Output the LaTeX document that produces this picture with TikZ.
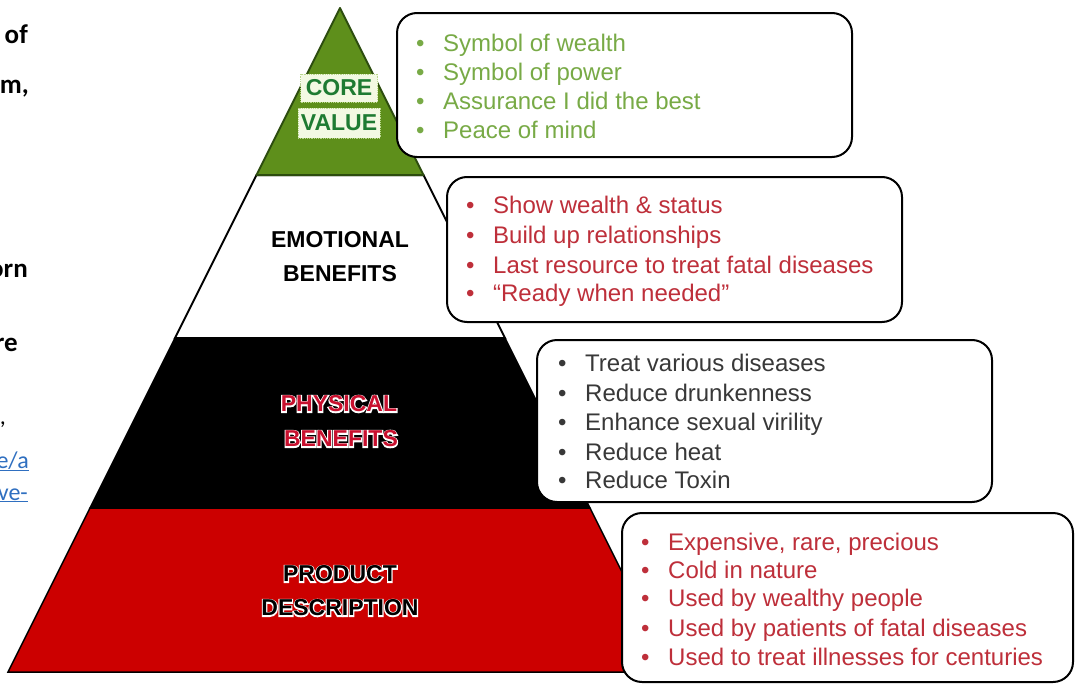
\documentclass[tikz,border=0pt]{standalone}
\usepackage{fontspec}
\setmainfont{Liberation Sans}
\newfontfamily\calib{Carlito}
\newfontfamily\halofont[FakeBold=10]{Liberation Sans Bold}
\definecolor{pgreen}{HTML}{5E8F1B}
\definecolor{pgreenline}{HTML}{2C4C0E}
\definecolor{pred}{HTML}{CC0000}
\definecolor{gtext}{HTML}{78AA46}
\definecolor{rtext}{HTML}{BE2F3A}
\definecolor{ktext}{HTML}{383838}
\definecolor{coretext}{HTML}{1E7B32}
\definecolor{corefill}{HTML}{F3F9E3}
\definecolor{coreline}{HTML}{B9D68E}
\definecolor{physred}{HTML}{C8102E}
\definecolor{linkblue}{HTML}{2F6FC0}
\newcommand\bul{\makebox[27pt][l]{•}}
\begin{document}
\begin{tikzpicture}[x=1pt,y=-1pt,
  infobox/.style={draw=black, line width=2pt, fill=white, rounded corners=20pt, inner sep=0pt},
  item/.style={anchor=base west, inner sep=0pt, font=\fontsize{24}{29}\selectfont},
  lbl/.style={inner sep=0pt, font=\fontsize{23}{28}\selectfont\bfseries},
  halo/.style={inner sep=0pt, text=white, font=\halofont\fontsize{23}{28}\selectfont},
  corebox/.style={lbl, fill=corefill, draw=coreline, densely dotted, line width=0.8pt, text=coretext},
  lefttxt/.style={anchor=base east, inner sep=0pt, font=\calib\fontsize{27}{32}\selectfont\bfseries},
  linktxt/.style={anchor=base east, inner sep=0pt, text=linkblue, font=\calib\fontsize{24}{29}\selectfont}]
\useasboundingbox (0,0) rectangle (1077,688);
\clip (0,0) rectangle (1077,688);
\fill[white] (0,0) rectangle (1077,688);

% left clipped text
\node[lefttxt] (l1) at (28,43) {of};
\node[lefttxt] (l2) at (29,93) {m,};
\node[lefttxt] (l3) at (28,277) {orn};
\node[lefttxt] (l4) at (18,351) {re};
\node[anchor=base east, inner sep=0pt, font=\calib\fontsize{24}{29}\selectfont] (l5) at (6,424) {,};
\node[linktxt] (l6) at (29,468) {\underline{e/a}};
\node[linktxt] (l7) at (28,500) {\underline{ve-}};

% pyramid
\filldraw[fill=pred, draw=black, line width=1.5pt] (90,508) -- (590,508) -- (672,672) -- (8,672) -- cycle;
\filldraw[fill=black, draw=black, line width=1.5pt] (175,338) -- (505,338) -- (590,508) -- (90,508) -- cycle;
\filldraw[fill=white, draw=black, line width=2pt] (256.5,175) -- (423.5,175) -- (505,338) -- (175,338) -- cycle;
\filldraw[fill=pgreen, draw=pgreenline, line width=2pt, line join=round] (340,8) -- (423.5,175) -- (256.5,175) -- cycle;

% pyramid labels
\node[corebox, minimum width=77, minimum height=28] (core) at (339,88) {CORE};
\node[corebox, minimum width=82, minimum height=30] (value) at (339,123) {VALUE};
\node[lbl, text=black] (emo1) at (340,240) {EMOTIONAL};
\node[lbl, text=black] (emo2) at (340,274) {BENEFITS};
\node[halo] (phy1h) at (339,404) {PHYSICAL};
\node[lbl, text=physred] (phy1) at (339,404) {PHYSICAL};
\node[halo] (phy2h) at (341,439) {BENEFITS};
\node[lbl, text=physred] (phy2) at (341,439) {BENEFITS};
\node[halo] (pro1h) at (340,574) {PRODUCT};
\node[lbl, text=black] (pro1) at (340,574) {PRODUCT};
\node[halo] (pro2h) at (340,608) {DESCRIPTION};
\node[lbl, text=black] (pro2) at (340,608) {DESCRIPTION};

% boxes
\node[infobox, minimum width=455, minimum height=144] (b1) at (624.5,85) {};
\node[infobox, minimum width=455, minimum height=145] (b2) at (674.5,249.5) {};
\node[infobox, minimum width=455, minimum height=162] (b3) at (764.5,421) {};
\node[infobox, minimum width=451, minimum height=169] (b4) at (847.5,597.5) {};

% box 1
\node[item, text=gtext] (b1a) at (416,51.5) {\bul Symbol of wealth};
\node[item, text=gtext] (b1b) at (416,80.5) {\bul Symbol of power};
\node[item, text=gtext] (b1c) at (416,109.5) {\bul Assurance I did the best};
\node[item, text=gtext] (b1d) at (416,138.5) {\bul Peace of mind};
% box 2
\node[item, text=rtext] (b2a) at (466,213.5) {\bul Show wealth \& status};
\node[item, text=rtext] (b2b) at (466,243.5) {\bul Build up relationships};
\node[item, text=rtext] (b2c) at (466,273.5) {\bul Last resource to treat fatal diseases};
\node[item, text=rtext] (b2d) at (466,301.5) {\bul “Ready when needed”};
% box 3
\node[item, text=ktext] (b3a) at (558,371.5) {\bul Treat various diseases};
\node[item, text=ktext] (b3b) at (558,401.5) {\bul Reduce drunkenness};
\node[item, text=ktext] (b3c) at (558,430.5) {\bul Enhance sexual virility};
\node[item, text=ktext] (b3d) at (558,460.5) {\bul Reduce heat};
\node[item, text=ktext] (b3e) at (558,488.5) {\bul Reduce Toxin};
% box 4
\node[item, text=rtext] (b4a) at (641,550.5) {\bul Expensive, rare, precious};
\node[item, text=rtext] (b4b) at (641,578.5) {\bul Cold in nature};
\node[item, text=rtext] (b4c) at (641,606.5) {\bul Used by wealthy people};
\node[item, text=rtext] (b4d) at (641,636.5) {\bul Used by patients of fatal diseases};
\node[item, text=rtext] (b4e) at (641,665.5) {\bul Used to treat illnesses for centuries};
\end{tikzpicture}
\end{document}
